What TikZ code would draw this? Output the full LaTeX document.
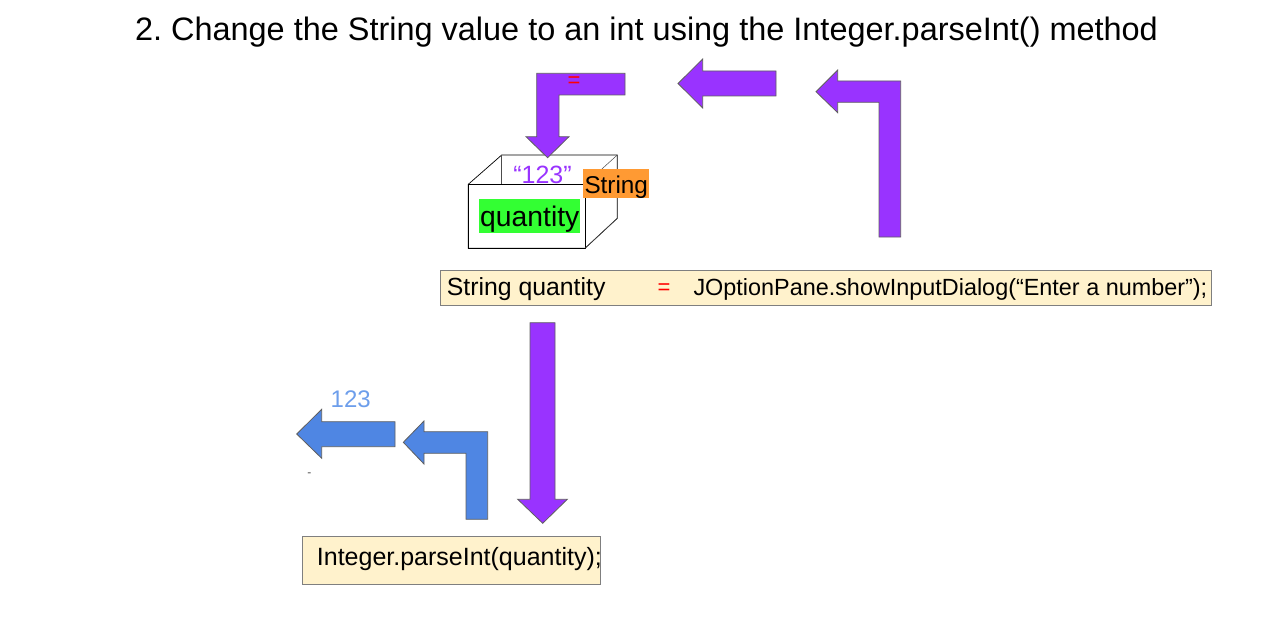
\documentclass[tikz,border=0pt]{standalone}
\usepackage{fontspec}
\setmainfont{Liberation Sans}
\frenchspacing
\definecolor{purp}{HTML}{9933FF}
\definecolor{bluearr}{HTML}{4F86E3}
\definecolor{lightblue}{HTML}{6D9EEB}
\definecolor{orangetag}{HTML}{FF9A33}
\definecolor{greentag}{HTML}{33FF33}
\definecolor{beige}{HTML}{FFF2CC}
\definecolor{arrline}{HTML}{5F5F5F}
\definecolor{boxline}{HTML}{7F7F7F}
\begin{document}
\begin{tikzpicture}[x=1pt,y=-1pt,
  txt/.style={inner sep=0pt, anchor=base west},
  ctxt/.style={inner sep=0pt, anchor=base},
  fs/.style={font=\fontsize{#1}{#1}\selectfont},
  blockarrow/.style={draw=arrline, line width=0.8pt, line join=miter},
  codebox/.style={draw=boxline, fill=beige, line width=1pt, inner sep=0pt},
  cube/.style={draw=black, line width=0.7pt}
]
\useasboundingbox (0,0) rectangle (1282,631);

% title
\node[ctxt, fs=32.45] (title) at (646.5,41) {2. Change the String value to an int using the Integer.parseInt() method};

% cube (variable box)
\coordinate (fa) at (468.3,184.3);
\coordinate (fb) at (585,184.3);
\coordinate (fc) at (585,248.3);
\coordinate (fd) at (468.3,248.3);
\coordinate (ba) at (501.7,155);
\coordinate (bb) at (617.3,155);
\coordinate (bc) at (617.3,218.3);
\draw[cube, fill=white] (fa) -- (ba) -- (bb) -- (bc) -- (fc) -- (fd) -- cycle;
\draw[cube] (fa) rectangle (fc);
\draw[cube, draw=black!70, line width=0.5pt] (ba) -- (501.7,184.3);
\draw[cube, draw=black!70, line width=0.5pt] (fb) -- (bb);
\draw[cube, draw=black!70, line width=0.5pt] (fc) -- (bc);

% purple bent arrow (top left, pointing down into box)
\draw[blockarrow, fill=purp] (625,73.3) -- (536.7,73.3) -- (536.7,136.7) -- (526,136.7)
  -- (547.6,157.7) -- (569,136.7) -- (559,136.7) -- (559,95) -- (625,95) -- cycle;
\node[inner sep=0pt, text=red, fs=22] (eqtop) at (574,82) {=};

% purple left arrow (middle)
\draw[blockarrow, fill=purp] (776,71) -- (702.7,71) -- (702.7,59) -- (678,83.5)
  -- (702.7,108) -- (702.7,96) -- (776,96) -- cycle;

% purple bent arrow (right, up then left)
\draw[blockarrow, fill=purp] (900.7,81) -- (837.7,81) -- (837.7,70) -- (816,91.7)
  -- (837.7,112.7) -- (837.7,102.3) -- (879,102.3) -- (879,237) -- (900.7,237) -- cycle;

% labels on the box
\node[ctxt, text=purp, fs=25] (val) at (542.5,183.3) {“123”};
\fill[orangetag] (583.3,169) rectangle (649,198.3);
\node[txt, fs=24.3] (typ) at (584.3,193.3) {String};
\fill[greentag] (479.3,199) rectangle (580,233.3);
\node[txt, fs=28.3] (var) at (480,226.7) {quantity};

% statement box
\node[codebox, minimum width=771.7pt, minimum height=34.3pt] (stmt) at (825.85,287.85) {};
\node[txt, fs=24.8] (decl) at (446.7,295.7) {String quantity};
\node[inner sep=0pt, text=red, fs=22] (eqst) at (664,289.5) {=};
\node[txt, fs=23.4] (call) at (693.3,295.7) {JOptionPane.showInputDialog(“Enter a number”);};

% purple down arrow
\draw[blockarrow, fill=purp] (530,322.7) -- (555,322.7) -- (555,499.3) -- (567.3,499.3)
  -- (542.7,523.3) -- (517.7,499.3) -- (530,499.3) -- cycle;

% blue bent arrow
\draw[blockarrow, fill=bluearr] (487.7,431.7) -- (424,431.7) -- (424,421) -- (403.3,442.3)
  -- (424,464) -- (424,453.3) -- (466,453.3) -- (466,519.3) -- (487.7,519.3) -- cycle;

% blue left arrow
\draw[blockarrow, fill=bluearr] (395,421.7) -- (321.7,421.7) -- (321.7,409.3) -- (296.7,434)
  -- (321.7,458.3) -- (321.7,446.7) -- (395,446.7) -- cycle;

\node[ctxt, text=lightblue, fs=24] (res) at (350.7,407.3) {123};
\node[inner sep=0pt, text=black!70, fs=12] (dash) at (309.3,475) {-};

% parseInt box
\node[codebox, minimum width=298pt, minimum height=47.6pt] (parse) at (451.7,560.5) {};
\node[txt, fs=25] (parsetxt) at (316.7,565) {Integer.parseInt(quantity);};
\end{tikzpicture}
\end{document}
